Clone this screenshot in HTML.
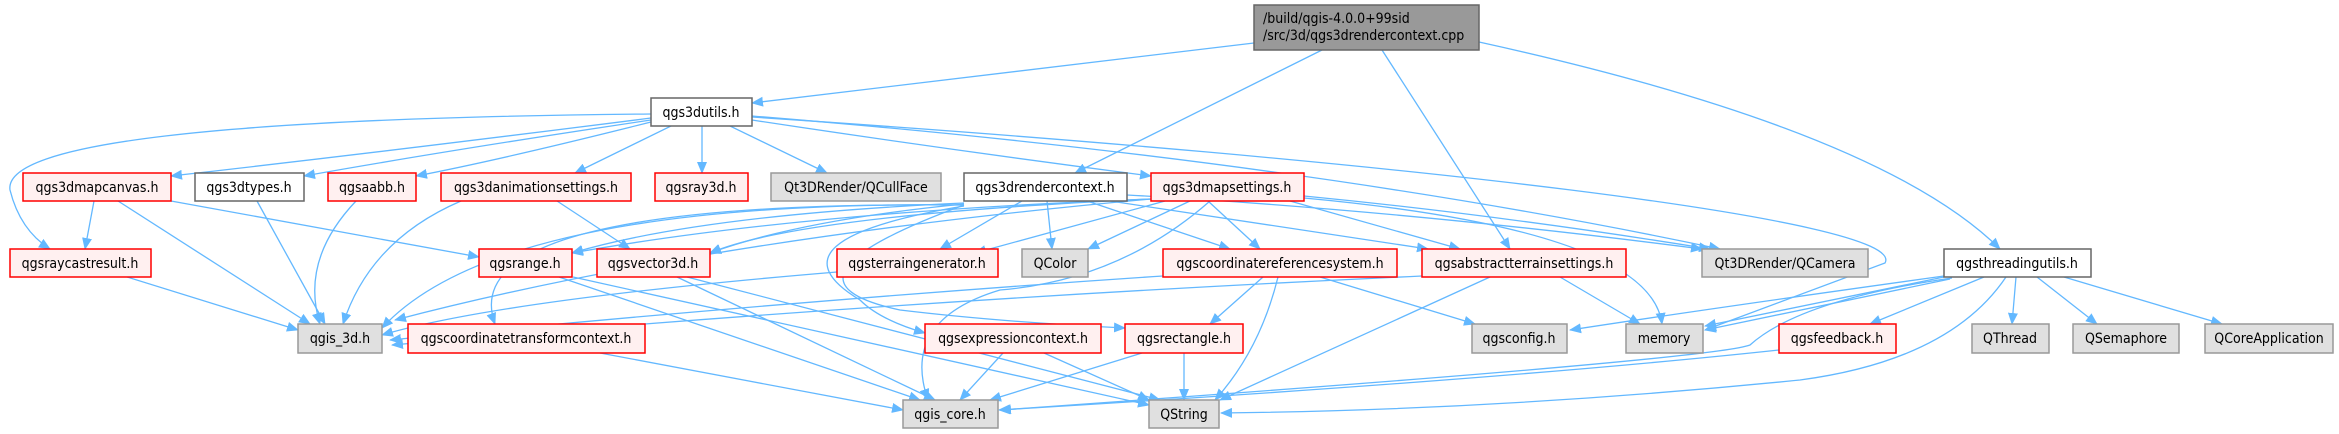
<!DOCTYPE html>
<html><head><meta charset="utf-8"><style>
html,body{margin:0;padding:0;background:#fff;width:2339px;height:434px;overflow:hidden}
text{font-family:"DejaVu Sans Condensed","DejaVu Sans","Liberation Sans",sans-serif;font-size:14px;fill:#000}
.e{fill:none;stroke:#63b8ff;stroke-width:1.3;marker-end:url(#a)}
.w{fill:#fff;stroke:#666;stroke-width:1.5}
.r{fill:#fff0f0;stroke:#f00;stroke-width:1.5}
.g{fill:#e0e0e0;stroke:#999;stroke-width:1.5}
.k{fill:#999;stroke:#666;stroke-width:1.5}
</style></head><body>
<svg width="2339" height="434" viewBox="0 0 2339 434" xmlns="http://www.w3.org/2000/svg">
<defs><marker id="a" markerWidth="12" markerHeight="10" refX="11" refY="5" orient="auto" markerUnits="userSpaceOnUse"><path d="M0,0 L12,5 L0,10 z" fill="#63b8ff"/></marker></defs>
<g>
<path class="e" d="M1254,43 L752,103"/>
<path class="e" d="M1322,50 L1075,173"/>
<path class="e" d="M1382,50 L1510,249"/>
<path class="e" d="M1479,42 Q1880,130 2000,249"/>
<path class="e" d="M651,118 Q400,150 171,176"/>
<path class="e" d="M651,120 Q450,150 304,176"/>
<path class="e" d="M651,122 Q500,160 416,176"/>
<path class="e" d="M671,126 L575,173"/>
<path class="e" d="M702,126 L702,173"/>
<path class="e" d="M730,126 L827,173"/>
<path class="e" d="M752,120 Q950,150 1151,176"/>
<path class="e" d="M651,114 Q0,120 10,190 Q20,230 50,249"/>
<path class="e" d="M752,116 Q1300,160 1720,249"/>
<path class="e" d="M752,117 C1400,160 1910,220 1885,263 L1705,330"/>
<path class="e" d="M94,201 L85,249"/>
<path class="e" d="M118,201 L310,324"/>
<path class="e" d="M171,201 L479,257"/>
<path class="e" d="M257,201 L325,324"/>
<path class="e" d="M356,201 Q300,260 320,324"/>
<path class="e" d="M461,201 Q370,240 343,324"/>
<path class="e" d="M557,201 L630,249"/>
<path class="e" d="M127,277 L298,330"/>
<path class="e" d="M559,277 L920,400"/>
<path class="e" d="M573,277 L1149,405"/>
<path class="e" d="M677,277 L935,400"/>
<path class="e" d="M687,277 L1160,400"/>
<path class="e" d="M600,353 L903,410"/>
<path class="e" d="M964,205 Q500,200 382,328"/>
<path class="e" d="M964,203 Q700,215 572,253"/>
<path class="e" d="M964,204 Q800,220 710,253"/>
<path class="e" d="M1022,201 L940,249"/>
<path class="e" d="M1047,201 L1052,249"/>
<path class="e" d="M1087,201 L1230,249"/>
<path class="e" d="M1110,201 L1428,249"/>
<path class="e" d="M964,206 Q760,240 860,300 Q880,320 925,333"/>
<path class="e" d="M964,205 Q760,280 900,310 Q1000,322 1125,328"/>
<path class="e" d="M964,205 Q450,200 495,324"/>
<path class="e" d="M1127,195 Q1400,210 1702,249"/>
<path class="e" d="M1165,201 L975,253"/>
<path class="e" d="M1190,201 L1088,249"/>
<path class="e" d="M1208,201 L1260,249"/>
<path class="e" d="M1290,201 L1460,249"/>
<path class="e" d="M1151,199 Q700,240 395,320"/>
<path class="e" d="M1151,199 Q800,215 710,253"/>
<path class="e" d="M1151,199 Q800,212 572,253"/>
<path class="e" d="M1210,201 Q1120,280 1000,290 Q900,320 928,400"/>
<path class="e" d="M1304,196 Q1500,215 1710,249"/>
<path class="e" d="M1304,198 Q1650,230 1662,324"/>
<path class="e" d="M837,272 Q500,300 382,335"/>
<path class="e" d="M1163,276 Q800,300 390,340"/>
<path class="e" d="M1422,276 Q900,300 392,345"/>
<path class="e" d="M1263,277 L1210,324"/>
<path class="e" d="M1278,277 Q1260,350 1215,400"/>
<path class="e" d="M1320,277 L1475,324"/>
<path class="e" d="M1490,277 L1220,400"/>
<path class="e" d="M1560,277 L1640,324"/>
<path class="e" d="M1003,353 L960,400"/>
<path class="e" d="M1044,353 L1149,400"/>
<path class="e" d="M1142,353 L990,400"/>
<path class="e" d="M1184,353 L1184,400"/>
<path class="e" d="M1944,276 Q1700,310 1570,330"/>
<path class="e" d="M1944,277 L1705,326"/>
<path class="e" d="M1950,279 L1705,330"/>
<path class="e" d="M1984,277 L1870,324"/>
<path class="e" d="M2016,277 L2012,324"/>
<path class="e" d="M2037,277 L2097,324"/>
<path class="e" d="M2064,277 L2222,324"/>
<path class="e" d="M1952,278 Q1800,300 1750,345 Q1710,360 1000,410"/>
<path class="e" d="M2006,277 Q1950,360 1800,380 Q1500,410 1221,413"/>
<path class="e" d="M1779,350 Q1500,380 999,410"/>
</g>
<g>
<rect class="k" x="1254" y="5" width="225" height="45"/>
<text x="1263" y="23">/build/qgis-4.0.0+99sid</text>
<text x="1263" y="40">/src/3d/qgs3drendercontext.cpp</text>
</g>
<g text-anchor="middle">
<rect class="w" x="651" y="98" width="101" height="28"/><text x="701" y="117">qgs3dutils.h</text>
<rect class="r" x="23" y="173" width="148" height="28"/><text x="97" y="192">qgs3dmapcanvas.h</text>
<rect class="w" x="195" y="173" width="109" height="28"/><text x="249" y="192">qgs3dtypes.h</text>
<rect class="r" x="328" y="173" width="88" height="28"/><text x="372" y="192">qgsaabb.h</text>
<rect class="r" x="441" y="173" width="190" height="28"/><text x="536" y="192">qgs3danimationsettings.h</text>
<rect class="r" x="655" y="173" width="93" height="28"/><text x="701" y="192">qgsray3d.h</text>
<rect class="g" x="771" y="173" width="170" height="28"/><text x="856" y="192">Qt3DRender/QCullFace</text>
<rect class="w" x="964" y="173" width="163" height="28"/><text x="1045" y="192">qgs3drendercontext.h</text>
<rect class="r" x="1151" y="173" width="153" height="28"/><text x="1227" y="192">qgs3dmapsettings.h</text>
<rect class="r" x="10" y="249" width="141" height="28"/><text x="80" y="268">qgsraycastresult.h</text>
<rect class="r" x="479" y="249" width="93" height="28"/><text x="525" y="268">qgsrange.h</text>
<rect class="r" x="597" y="249" width="113" height="28"/><text x="653" y="268">qgsvector3d.h</text>
<rect class="r" x="837" y="249" width="161" height="28"/><text x="917" y="268">qgsterraingenerator.h</text>
<rect class="g" x="1022" y="249" width="66" height="28"/><text x="1055" y="268">QColor</text>
<rect class="r" x="1163" y="249" width="234" height="28"/><text x="1280" y="268">qgscoordinatereferencesystem.h</text>
<rect class="r" x="1422" y="249" width="204" height="28"/><text x="1524" y="268">qgsabstractterrainsettings.h</text>
<rect class="g" x="1702" y="249" width="166" height="28"/><text x="1785" y="268">Qt3DRender/QCamera</text>
<rect class="w" x="1944" y="249" width="147" height="28"/><text x="2017" y="268">qgsthreadingutils.h</text>
<rect class="g" x="298" y="324" width="84" height="29"/><text x="340" y="343">qgis_3d.h</text>
<rect class="r" x="408" y="324" width="237" height="29"/><text x="526" y="343">qgscoordinatetransformcontext.h</text>
<rect class="r" x="925" y="324" width="176" height="29"/><text x="1013" y="343">qgsexpressioncontext.h</text>
<rect class="r" x="1125" y="324" width="118" height="29"/><text x="1184" y="343">qgsrectangle.h</text>
<rect class="g" x="1472" y="324" width="95" height="29"/><text x="1519" y="343">qgsconfig.h</text>
<rect class="g" x="1626" y="324" width="77" height="29"/><text x="1664" y="343">memory</text>
<rect class="r" x="1779" y="324" width="117" height="29"/><text x="1837" y="343">qgsfeedback.h</text>
<rect class="g" x="1972" y="324" width="77" height="29"/><text x="2010" y="343">QThread</text>
<rect class="g" x="2073" y="324" width="106" height="29"/><text x="2126" y="343">QSemaphore</text>
<rect class="g" x="2205" y="324" width="128" height="29"/><text x="2269" y="343">QCoreApplication</text>
<rect class="g" x="903" y="400" width="95" height="28"/><text x="950" y="419">qgis_core.h</text>
<rect class="g" x="1149" y="400" width="70" height="28"/><text x="1184" y="419">QString</text>
</g>
</svg>
</body></html>
